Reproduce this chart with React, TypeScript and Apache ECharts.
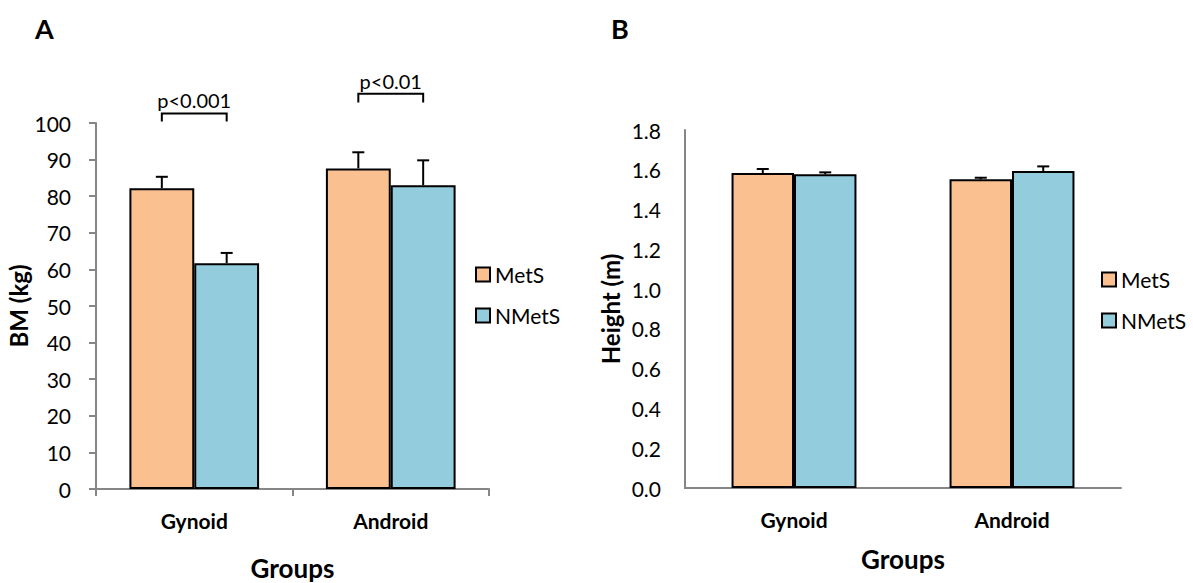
import React, { useEffect, useRef } from "react";
import * as echarts from "echarts";

// Groups and series
const groups = ["Gynoid", "Android"];
const seriesNames = ["MetS", "NMetS"];

// Panel A: body mass (kg), mean and upper error bound
const bmMetS = [82.2, 87.6];
const bmMetSUpper = [85.3, 92.0];
const bmNMetS = [61.7, 83.0];
const bmNMetSUpper = [64.5, 89.8];

// Panel B: height (m), mean and upper error bound
const htMetS = [1.584, 1.552];
const htMetSUpper = [1.604, 1.56];
const htNMetS = [1.577, 1.594];
const htNMetSUpper = [1.587, 1.617];

// Significance annotations for panel A
const sigLabels = ["p<0.001", "p<0.01"];
const sigGroup = [0, 1];
const sigFoot = [100.4, 105.6];
const sigTop = [102.6, 108.0];

const colorMetS = "#FAC090";
const colorNMetS = "#93CDDD";
const axisGray = "#868686";
const FONT = "Lato, 'Open Sans', sans-serif";

const gapA = 0.34;
const gapB = 0.427;

function errorRenderer(gap: number) {
  return (params: any, api: any) => {
    const cat = api.value(0);
    const side = api.value(3);
    const band = api.size([1, 0])[0];
    const off = (side * band * (1 - gap)) / 4;
    const p0 = api.coord([cat, api.value(1)]);
    const p1 = api.coord([cat, api.value(2)]);
    const x = p0[0] + off;
    const cap = 6;
    const style = { stroke: "#000", lineWidth: 2, fill: null };
    return {
      type: "group",
      children: [
        { type: "line", shape: { x1: x, y1: p0[1], x2: x, y2: p1[1] }, style },
        { type: "line", shape: { x1: x - cap, y1: p1[1], x2: x + cap, y2: p1[1] }, style },
      ],
    };
  };
}

function bracketRenderer(gap: number) {
  return (params: any, api: any) => {
    const cat = api.value(0);
    const band = api.size([1, 0])[0];
    const off = (band * (1 - gap)) / 4;
    const foot = api.coord([cat, api.value(1)]);
    const top = api.coord([cat, api.value(2)]);
    const xl = foot[0] - off;
    const xr = foot[0] + off;
    return {
      type: "group",
      children: [
        {
          type: "polyline",
          shape: { points: [[xl, foot[1]], [xl, top[1]], [xr, top[1]], [xr, foot[1]]] },
          style: { stroke: "#000", lineWidth: 2, fill: null },
        },
        {
          type: "text",
          style: {
            text: sigLabels[params.dataIndex],
            x: foot[0],
            y: top[1] - 3,
            align: "center",
            verticalAlign: "bottom",
            font: `20px ${FONT}`,
            fill: "#000",
          },
        },
      ],
    };
  };
}

function makeErr(means: number[], uppers: number[], side: number) {
  return means.map((m, i) => [i, m, uppers[i], side]);
}

export default function App() {
  const ref = useRef<HTMLDivElement>(null);

  useEffect(() => {
    document.body.style.margin = "0";
    const chart = echarts.init(ref.current!, null, { renderer: "svg" });

    const baseX = (idx: number) => ({
      type: "category" as const,
      gridIndex: idx,
      data: groups,
      name: "Groups",
      nameLocation: "middle" as const,
      nameGap: idx === 0 ? 66 : 58,
      nameTextStyle: { fontFamily: FONT, fontSize: 26, fontWeight: "bold" as const, color: "#000" },
      axisLine: { lineStyle: { color: axisGray, width: 2 } },
      axisTick: { show: idx === 0, length: 7, lineStyle: { color: axisGray, width: 2 } },
      axisLabel: { fontFamily: FONT, fontSize: 21, fontWeight: "bold" as const, color: "#000", margin: 21 },
    });

    const legendBase = {
      data: seriesNames,
      orient: "vertical" as const,
      itemWidth: 14,
      itemHeight: 14,
      itemGap: 20,
      icon: "rect",
      textStyle: { fontFamily: FONT, fontSize: 21, color: "#000" },
    };

    const barStyle = (color: string) => ({ color, borderColor: "#000", borderWidth: 2 });

    chart.setOption({
      animation: false,
      backgroundColor: "#fff",
      title: [
        { text: "A", left: 30, top: 10, textStyle: { fontFamily: FONT, fontSize: 27, fontWeight: "bold", color: "#000" } },
        { text: "B", left: 606, top: 10, textStyle: { fontFamily: FONT, fontSize: 27, fontWeight: "bold", color: "#000" } },
      ],
      legend: [
        { ...legendBase, left: 470, top: 259 },
        { ...legendBase, left: 1096, top: 264 },
      ],
      grid: [
        { left: 96, top: 123, width: 393, height: 366, outerBoundsMode: "none", containLabel: false },
        { left: 685, top: 130, width: 436, height: 358, outerBoundsMode: "none", containLabel: false },
      ],
      xAxis: [baseX(0), baseX(1)],
      yAxis: [
        {
          type: "value",
          gridIndex: 0,
          min: 0,
          max: 100,
          interval: 10,
          name: "BM (kg)",
          nameLocation: "middle",
          nameGap: 64,
          nameTextStyle: { fontFamily: FONT, fontSize: 24, fontWeight: "bold", color: "#000" },
          axisLine: { show: true, lineStyle: { color: axisGray, width: 2 } },
          axisTick: { show: true, length: 7, lineStyle: { color: axisGray, width: 2 } },
          axisLabel: { fontFamily: FONT, fontSize: 21, color: "#000", margin: 25 },
          splitLine: { show: false },
        },
        {
          type: "value",
          gridIndex: 1,
          min: 0,
          max: 1.8,
          interval: 0.2,
          name: "Height (m)",
          nameLocation: "middle",
          nameGap: 63,
          nameTextStyle: { fontFamily: FONT, fontSize: 24, fontWeight: "bold", color: "#000" },
          axisLine: { show: true, lineStyle: { color: axisGray, width: 2 } },
          axisTick: { show: false },
          axisLabel: {
            fontFamily: FONT,
            fontSize: 21,
            color: "#000",
            margin: 24,
            formatter: (v: number) => v.toFixed(1),
          },
          splitLine: { show: false },
        },
      ],
      series: [
        {
          name: "MetS",
          type: "bar",
          xAxisIndex: 0,
          yAxisIndex: 0,
          data: bmMetS,
          barGap: "0%",
          barCategoryGap: `${gapA * 100}%`,
          itemStyle: barStyle(colorMetS),
        },
        {
          name: "NMetS",
          type: "bar",
          xAxisIndex: 0,
          yAxisIndex: 0,
          data: bmNMetS,
          barGap: "0%",
          barCategoryGap: `${gapA * 100}%`,
          itemStyle: barStyle(colorNMetS),
        },
        {
          name: "MetS",
          type: "bar",
          xAxisIndex: 1,
          yAxisIndex: 1,
          data: htMetS,
          barGap: "0%",
          barCategoryGap: `${gapB * 100}%`,
          itemStyle: barStyle(colorMetS),
        },
        {
          name: "NMetS",
          type: "bar",
          xAxisIndex: 1,
          yAxisIndex: 1,
          data: htNMetS,
          barGap: "0%",
          barCategoryGap: `${gapB * 100}%`,
          itemStyle: barStyle(colorNMetS),
        },
        {
          type: "custom",
          xAxisIndex: 0,
          yAxisIndex: 0,
          renderItem: errorRenderer(gapA),
          data: [...makeErr(bmMetS, bmMetSUpper, -1), ...makeErr(bmNMetS, bmNMetSUpper, 1)],
          z: 1,
          clip: false,
        },
        {
          type: "custom",
          xAxisIndex: 1,
          yAxisIndex: 1,
          renderItem: errorRenderer(gapB),
          data: [...makeErr(htMetS, htMetSUpper, -1), ...makeErr(htNMetS, htNMetSUpper, 1)],
          z: 1,
          clip: false,
        },
        {
          type: "custom",
          xAxisIndex: 0,
          yAxisIndex: 0,
          renderItem: bracketRenderer(gapA),
          data: sigGroup.map((g, i) => [g, sigFoot[i], sigTop[i]]),
          clip: false,
        },
      ],
    });

    return () => chart.dispose();
  }, []);

  return <div ref={ref} style={{ width: 1193, height: 583 }} />;
}
